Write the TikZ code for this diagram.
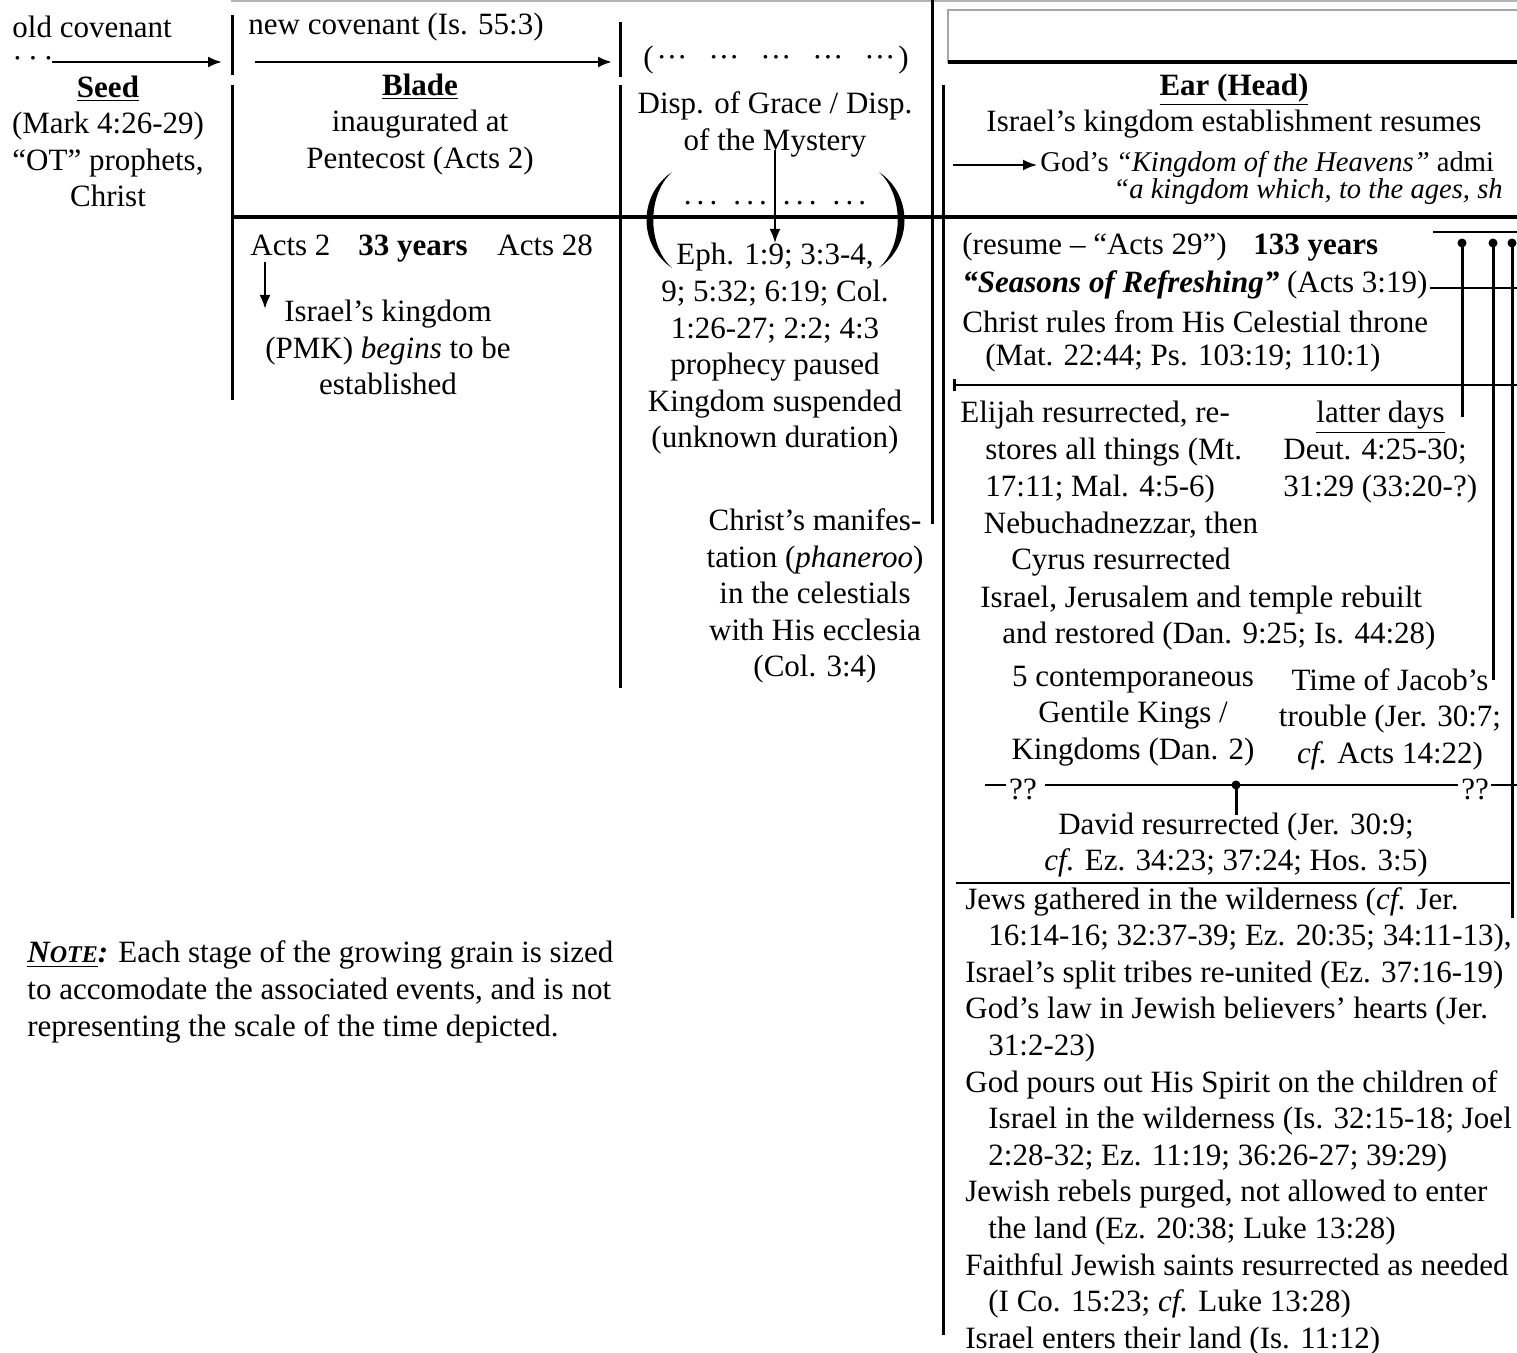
\documentclass[tikz,border=0pt]{standalone}
\usepackage{fontspec}
\setmainfont{Liberation Serif}
\usetikzlibrary{arrows.meta}
\newcommand\myfs{\fontsize{15.5}{18.3}\selectfont}
\newcommand\mysmfs{\fontsize{14.3}{17}\selectfont}
\begin{document}
\begin{tikzpicture}[x=0.5pt,y=-0.5pt,
  txt/.style={inner sep=0pt,font=\myfs,align=center},
  ltxt/.style={inner sep=0pt,font=\myfs,align=left,anchor=west},
  btxt/.style={inner sep=0pt,font=\myfs,anchor=base west},
  div/.style={line width=1.5pt},
  mainline/.style={line width=2pt},
  hline/.style={line width=1.4pt},
  arr/.style={line width=1.2pt,-{Latex[length=7pt,width=5.5pt]}},
  dotend/.style={circle,fill,inner sep=0pt,minimum size=4.5pt},
]
\useasboundingbox (0,0) rectangle (1517,1353);

% ---------- frame lines ----------
\coordinate (tg1) at (231,1); \coordinate (tg2) at (1517,1);
\draw[gray!60,line width=0.6pt] (tg1) -- (tg2);
\coordinate (bx1) at (948,10); \coordinate (bx2) at (1540,62);
\draw[gray!70,line width=0.8pt] (bx1) rectangle (bx2);
\coordinate (bxl) at (948,62); \coordinate (bxr) at (1517,62);
\draw[line width=1.8pt] (bxl) -- (bxr);

\coordinate (ml1) at (232,217); \coordinate (ml2) at (1517,217);
\draw[mainline] (ml1) -- (ml2);

\coordinate (v1a) at (232,15); \coordinate (v1b) at (232,75);
\coordinate (v1c) at (232,85); \coordinate (v1d) at (232,400);
\draw[div] (v1a) -- (v1b); \draw[div] (v1c) -- (v1d);
\coordinate (v2a) at (620,22); \coordinate (v2b) at (620,77);
\coordinate (v2c) at (620,85); \coordinate (v2d) at (620,688);
\draw[div] (v2a) -- (v2b); \draw[div] (v2c) -- (v2d);
\coordinate (v3a) at (932,0); \coordinate (v3b) at (932,524);
\draw[div] (v3a) -- (v3b);
\coordinate (v4a) at (943,85); \coordinate (v4b) at (943,1335);
\draw[div] (v4a) -- (v4b);

% ---------- left: seed ----------
\node[ltxt] (oldcov) at (12,27) {old covenant};
\node[inner sep=0pt,font=\myfs,anchor=west] (olddots) at (12,62) {·\,·\,·};
\coordinate (oas) at (52,62); \coordinate (oae) at (222,62);
\draw[arr] (oas) -- (oae);
\node[txt] (seed) at (108,141.5) {\underline{\textbf{Seed}}\\(Mark 4:26-29)\\“OT” prophets,\\Christ};

% ---------- blade ----------
\node[ltxt] (newcov) at (248,27) {new covenant (Is. 55:3)};
\coordinate (ncs) at (255,62); \coordinate (nce) at (612,62);
\draw[arr] (ncs) -- (nce);
\node[txt] (blade) at (420,124.5) {\underline{\textbf{Blade}}\\inaugurated at\\Pentecost (Acts 2)};
\node[btxt] (acts2) at (250,256) {Acts 2};
\node[btxt] (y33) at (358,256) {\textbf{33 years}};
\node[btxt] (acts28) at (497,256) {Acts 28};
\coordinate (a2s) at (265,262); \coordinate (a2e) at (265,309);
\draw[arr] (a2s) -- (a2e);
\node[txt] (isrk) at (388,347.5) {Israel’s kingdom\\(PMK) \textit{begins} to be\\established};

% ---------- dispensation ----------
\node[txt] (dispdots) at (776,60) {(\hspace{1.5pt}···\hspace{10.5pt}···\hspace{10.5pt}···\hspace{10.5pt}···\hspace{10.5pt}···\hspace{1.5pt})};
\node[txt] (disp) at (775,124.5) {Disp. of Grace / Disp.\\of the Mystery};
\coordinate (mys1) at (775,150); \coordinate (mys2) at (775,243);
\draw[arr,line width=1pt] (mys1) -- (mys2);
\fill (672,172) .. controls (638,195) and (638,245) .. (672,268)
      .. controls (647,245) and (647,195) .. (672,172) -- cycle;
\fill (879,172) .. controls (913,195) and (913,245) .. (879,268)
      .. controls (904,245) and (904,195) .. (879,172) -- cycle;
\node[txt] (innerdots) at (775,203) {.\,.\,.\hspace{8pt}.\,.\,.\hspace{8pt}.\,.\,.\hspace{8pt}.\,.\,.};
\node[txt] (eph) at (775,349) {Eph. 1:9; 3:3-4,\\9; 5:32; 6:19; Col.\\1:26-27; 2:2; 4:3\\prophecy paused\\Kingdom suspended\\(unknown duration)};
\node[txt] (manif) at (815,596) {Christ’s manifes-\\tation (\textit{phaneroo})\\in the celestials\\with His ecclesia\\(Col. 3:4)};

% ---------- note ----------
\node[ltxt] (note) at (27,992) {\underline{\textbf{\textit{N{\fontsize{12}{14}\selectfont OTE}}}}\textbf{\textit{:}} Each stage of the growing grain is sized\\to accomodate the associated events, and is not\\representing the scale of the time depicted.};

% ---------- ear ----------
\node[txt] (ear) at (1234,106) {\underline{\textbf{Ear (Head)}}\\Israel’s kingdom establishment resumes};
\coordinate (khs) at (953,165); \coordinate (khe) at (1037,165);
\draw[arr,line width=1pt] (khs) -- (khe);
\node[inner sep=0pt,font=\mysmfs,anchor=base west] (kh) at (1040,172) {God’s \textit{“Kingdom of the Heavens”} admi};
\node[inner sep=0pt,font=\mysmfs,anchor=base west] (kwh) at (1113,199) {\textit{“a kingdom which, to the ages, sh}};

\node[btxt] (resume) at (962,255) {(resume – “Acts 29”)};
\node[btxt] (y133) at (1253,255) {\textbf{133 years}};
\node[ltxt] (seasons) at (962,285) {\textbf{\textit{“Seasons of Refreshing”}} (Acts 3:19)};
\node[ltxt] (rules) at (962,322) {Christ rules from His Celestial throne};
\node[ltxt] (mat) at (985,358) {(Mat. 22:44; Ps. 103:19; 110:1)};
\coordinate (l385s) at (953,385); \coordinate (l385e) at (1517,385);
\draw[hline,{Bar[width=6pt]}-] (l385s) -- (l385e);

% right side bracket lines
\coordinate (rt1) at (1433,232); \coordinate (rt2) at (1517,232);
\draw[hline] (rt1) -- (rt2);
\coordinate (sr1) at (1430,288); \coordinate (sr2) at (1517,288);
\draw[hline] (sr1) -- (sr2);
\node[dotend] (dA) at (1462,243) {};
\node[dotend] (dB) at (1493,243) {};
\node[dotend] (dC) at (1512,243) {};
\coordinate (dAe) at (1462,417); \coordinate (dBe) at (1493,680); \coordinate (dCe) at (1512,918);
\draw[div] (dA.center) -- (dAe);
\draw[div] (dB.center) -- (dBe);
\draw[div] (dC.center) -- (dCe);

\node[ltxt] (elijah) at (960,452) {Elijah resurrected, re-\\\hspace*{12.5pt}stores all things (Mt.\\\hspace*{12.5pt}17:11; Mal. 4:5-6)};
\node[ltxt] (latter) at (1283,452) {\hspace*{16.5pt}\underline{latter days}\\Deut. 4:25-30;\\31:29 (33:20-?)};
\node[txt] (nebu) at (1121,544) {Nebuchadnezzar, then\\Cyrus resurrected};
\node[ltxt] (jeru) at (980,618) {Israel, Jerusalem and temple rebuilt\\\hspace*{11pt}and restored (Dan. 9:25; Is. 44:28)};
\node[txt] (gent) at (1133,716) {5 contemporaneous\\Gentile Kings /\\Kingdoms (Dan. 2)};
\node[txt] (jacob) at (1390,719) {Time of Jacob’s\\trouble (Jer. 30:7;\\\textit{cf.} Acts 14:22)};

% ?? line
\node[txt] (qq1) at (1023,789) {??};
\node[txt] (qq2) at (1475,789) {??};
\coordinate (qa) at (985,785); \coordinate (qb) at (1006,785);
\coordinate (qc) at (1045,785); \coordinate (qd) at (1458,785);
\coordinate (qe) at (1491,785); \coordinate (qf) at (1517,785);
\draw[hline] (qa) -- (qb);
\draw[hline] (qc) -- (qd);
\draw[hline] (qe) -- (qf);
\node[dotend] (ddot) at (1236,785) {};
\coordinate (dbot) at (1236,815);
\draw[div] (ddot.center) -- (dbot);
\node[txt] (david) at (1236,845) {David resurrected (Jer. 30:9;\\\textit{cf.} Ez. 34:23; 37:24; Hos. 3:5)};
\coordinate (l883s) at (956,883); \coordinate (l883e) at (1510,883);
\draw[line width=1pt] (l883s) -- (l883e);

\node[ltxt] (list) at (965,1121) {Jews gathered in the wilderness (\textit{cf.} Jer.\\
\hspace*{11.5pt}16:14-16; 32:37-39; Ez. 20:35; 34:11-13),\\
Israel’s split tribes re-united (Ez. 37:16-19)\\
God’s law in Jewish believers’ hearts (Jer.\\
\hspace*{11.5pt}31:2-23)\\
God pours out His Spirit on the children of\\
\hspace*{11.5pt}Israel in the wilderness (Is. 32:15-18; Joel\\
\hspace*{11.5pt}2:28-32; Ez. 11:19; 36:26-27; 39:29)\\
Jewish rebels purged, not allowed to enter\\
\hspace*{11.5pt}the land (Ez. 20:38; Luke 13:28)\\
Faithful Jewish saints resurrected as needed\\
\hspace*{11.5pt}(I Co. 15:23; \textit{cf.} Luke 13:28)\\
Israel enters their land (Is. 11:12)};
\end{tikzpicture}
\end{document}
